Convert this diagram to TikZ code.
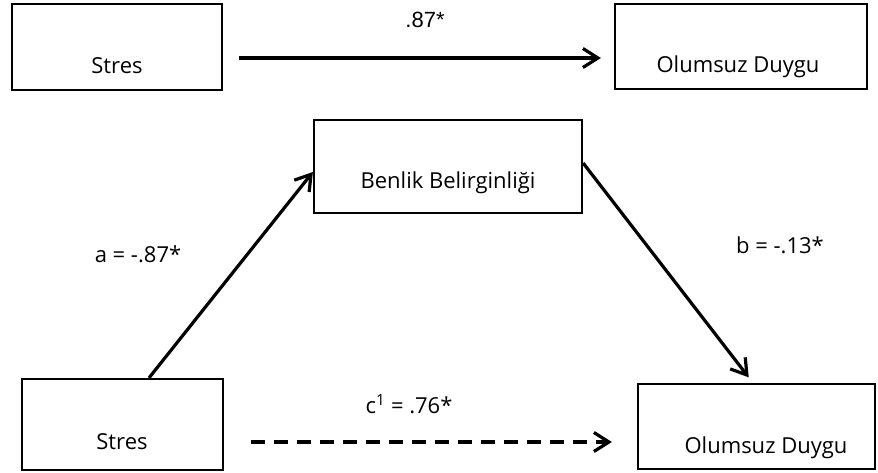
\documentclass[tikz,border=0pt]{standalone}
\usepackage{fontspec}
\setmainfont{Open Sans}
\newfontfamily\arialfont{Liberation Sans}
\usetikzlibrary{arrows.meta}

\begin{document}
\begin{tikzpicture}[x=1pt, y=-1pt, font=\fontsize{22}{26}\selectfont,
  box/.style={draw, line width=2.2pt, inner sep=0pt},
  txt/.style={inner sep=0pt, anchor=base},
  arr/.style={-{Straight Barb[length=15pt,width=19pt]}, line width=3.2pt}]
\useasboundingbox (0,0) rectangle (878,473);
% direct effect
\node[box, minimum width=210pt, minimum height=86pt] (stres1) at (117,47) {};
\node[box, minimum width=252pt, minimum height=85pt] (olum1) at (741,46.5) {};
\node[txt] (stres1t) at (117,74) {Stres};
\node[txt] (olum1t) at (738,73) {Olumsuz Duygu};
\draw[arr, shorten <=16pt, shorten >=13pt] ([yshift=-11pt]stres1.east)
  -- ([yshift=-11pt]stres1.east -| olum1.west);
\node[txt] (c) at (425,28) {\arialfont .87*};
% mediation
\node[box, minimum width=268pt, minimum height=93pt] (benlik) at (448,166.5) {};
\node[box, minimum width=201pt, minimum height=91pt] (stres2) at (122.5,424.5) {};
\node[box, minimum width=237pt, minimum height=85pt] (olum2) at (756.5,426.5) {};
\node[txt] (benlikt) at (448,189) {Benlik Belirginliği};
\node[txt] (stres2t) at (122,449) {Stres};
\node[txt] (olum2t) at (766,453) {Olumsuz Duygu};
\draw[arr] ([xshift=26.5pt]stres2.north) -- ([yshift=-5.5pt]benlik.west);
\draw[arr, shorten >=7pt] ([yshift=3.5pt]benlik.east) -- ([xshift=-3.5pt]olum2.north);
\draw[arr, dash pattern=on 14pt off 9pt, shorten <=27pt, shorten >=25pt]
  ([yshift=-17.5pt]stres2.east) -- ([yshift=-17.5pt]stres2.east -| olum2.west);
\node[txt] (a) at (138,262) {a = -.87*};
\node[txt] (b) at (780,253) {b = -.13*};
\node[txt] (c1) at (409,413) {c\textsuperscript{1} = .76*};
\end{tikzpicture}
\end{document}
